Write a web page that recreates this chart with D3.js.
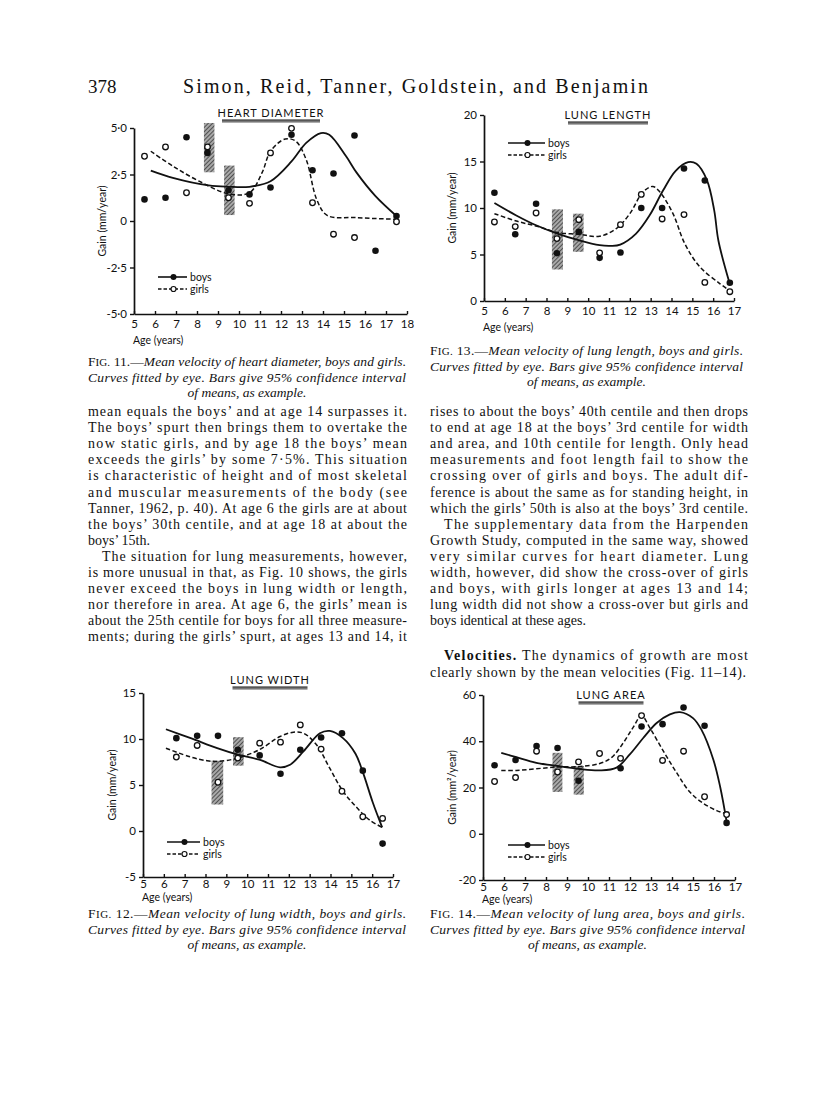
<!DOCTYPE html>
<html>
<head>
<meta charset="utf-8">
<script src="https://cdn.jsdelivr.net/npm/d3@7"></script>
<style>
  body { margin: 0; background: #fff; }
  svg { display: block; }
  .tick text { font-family: Lato, "Open Sans", sans-serif; font-size: 11.5px; fill: #111; }
  .body-text { font-family: "Liberation Serif", "DejaVu Serif", serif; font-size: 14px; fill: #111; }
</style>
</head>
<body>
<svg width="816" height="1117"></svg>
<script>
// ---- Fig. 11 heart diameter ----
const heartAges = [5.5, 6.5, 7.5, 8.5, 9.5, 10.5, 11.5, 12.5, 13.5, 14.5, 15.5, 16.5, 17.5];
const heartBoys = [1.16, 1.25, 4.5, 3.66, 1.65, 1.43, 1.8, 4.64, 2.73, 2.55, 4.6, -1.6, 0.27];
const heartGirls = [3.48, 3.98, 1.52, 3.98, 1.25, 0.95, 3.66, 4.98, 0.98, -0.71, -0.89, null, -0.04];
const heartBoysCurve = [[5.8, 2.71], [6.85, 2.32], [8.56, 1.91], [9.5, 1.84], [10.5, 1.84], [11.5, 2.14], [12.5, 3.2],
  [13.2, 4.2], [13.9, 4.73], [14.3, 4.64], [15.1, 3.48], [15.6, 2.6], [16.5, 1.34], [17.5, 0.27]];
const heartGirlsCurve = [[5.8, 3.75], [6.85, 2.95], [8.1, 2.14], [9.5, 1.46], [10.5, 1.52], [11.1, 2.6], [11.5, 3.75],
  [12.2, 4.41], [12.7, 4.29], [13.2, 3.3], [13.7, 1.16], [14.2, 0.3], [15.6, 0.18], [17.5, 0.09]];
const heartBars = [[8.33, 8.83, 2.62, 5.27], [9.29, 9.79, 0.32, 2.98]];
const heartYTicks = [5, 2.5, 0, -2.5, -5];
const heartYLabels = ["5·0", "2·5", "0", "-2·5", "-5·0"];
const heartXTicks = [5, 6, 7, 8, 9, 10, 11, 12, 13, 14, 15, 16, 17, 18];

// ---- Fig. 13 lung length ----
const lengthAges = [5.5, 6.5, 7.5, 8.5, 9.55, 10.55, 11.55, 12.55, 13.55, 14.6, 15.6, 16.8];
const lengthBoys = [11.64, 7.18, 10.46, 5.14, 7.43, 4.64, 5.21, 10.0, 10.0, 14.25, 12.96, 1.96];
const lengthGirls = [8.5, 8.0, 9.46, 6.71, 8.75, 5.18, 8.21, 11.46, 8.82, 9.29, 2.0, 1.0];
const lengthBoysCurve = [[5.5, 10.54], [6.55, 9.2], [7.5, 8.14], [8.52, 7.25], [9.54, 6.54], [10.55, 6.0], [11.1, 5.93],
  [11.54, 6.07], [12.3, 7.25], [12.95, 9.21], [13.6, 11.9], [14.2, 14.0], [14.8, 14.93], [15.2, 14.75], [15.7, 13.0],
  [16.05, 9.75], [16.25, 6.5], [16.75, 2.2]];
const lengthGirlsCurve = [[5.5, 9.39], [6.55, 8.6], [7.67, 7.96], [8.52, 7.36], [9.54, 7.18], [10.55, 6.96], [11.35, 7.79],
  [12.0, 9.39], [12.63, 11.71], [13.1, 12.32], [13.45, 11.7], [14.07, 9.4], [14.63, 6.2], [15.35, 3.7], [16.3, 1.9], [16.8, 1.1]];
const lengthBars = [[8.26, 8.79, 3.39, 9.86], [9.27, 9.78, 5.29, 9.39]];
const lengthYTicks = [20, 15, 10, 5, 0];
const lengthYLabels = ["20", "15", "10", "5", "0"];

// ---- Fig. 12 lung width ----
const widthAges = [6.6, 7.6, 8.6, 9.55, 10.6, 11.6, 12.55, 13.55, 14.55, 15.55, 16.5];
const widthBoys = [10.09, 10.34, 10.34, 8.83, 8.22, 6.23, 8.83, 10.16, 10.63, 6.56, -1.37];
const widthGirls = [8.04, 9.3, 5.3, 7.93, 9.55, 9.66, 11.53, 8.9, 4.32, 1.55, 1.37];
const widthBoysCurve = [[6.1, 11.06], [7.29, 10.09], [8.56, 9.0], [9.56, 8.29], [10.58, 7.75], [11.58, 6.92], [12.06, 7.2],
  [12.7, 8.65], [13.49, 10.63], [13.97, 10.88], [14.6, 10.1], [15.2, 8.4], [15.56, 6.34], [16.03, 3.1], [16.48, 0.4]];
const widthGirlsCurve = [[6.1, 9.0], [7.29, 8.04], [8.08, 7.64], [8.61, 7.57], [9.56, 7.93], [10.58, 8.83], [11.58, 10.27],
  [12.22, 10.74], [12.7, 10.63], [13.33, 9.37], [13.97, 6.8], [14.6, 4.32], [15.24, 2.6], [15.87, 1.2], [16.48, 0.4]];
const widthBars = [[8.29, 8.85, 2.88, 7.64], [9.32, 9.83, 7.1, 10.2]];
const widthYTicks = [15, 10, 5, 0, -5];
const widthYLabels = ["15", "10", "5", "0", "-5"];

// ---- Fig. 14 lung area ----
const areaAges = [5.55, 6.55, 7.55, 8.55, 9.55, 10.55, 11.55, 12.55, 13.55, 14.55, 15.55, 16.6];
const areaBoys = [29.6, 31.9, 37.9, 37.1, 22.9, null, 28.3, 46.4, 47.4, 54.6, 46.7, 4.7];
const areaGirls = [22.6, 24.3, 35.7, 26.7, 31.1, 34.7, 32.6, 51.1, 31.7, 35.7, 16.0, 8.3];
const areaBoysCurve = [[5.87, 35.0], [6.59, 33.1], [7.54, 30.7], [8.55, 29.3], [9.53, 28.1], [10.56, 27.4], [11.36, 28.6],
  [11.99, 34.3], [12.63, 41.4], [13.27, 47.9], [13.9, 51.6], [14.38, 52.6], [15.0, 50.0], [15.4, 45.0], [15.97, 32.0],
  [16.3, 20.0], [16.6, 5.3]];
const areaGirlsCurve = [[5.87, 27.4], [6.59, 27.4], [7.54, 28.1], [8.55, 28.9], [9.53, 29.0], [10.56, 30.4], [11.12, 32.9],
  [11.68, 39.3], [12.15, 46.0], [12.55, 51.0], [12.95, 45.7], [13.59, 35.7], [14.22, 26.4], [14.86, 17.9], [15.5, 13.1],
  [16.13, 10.0], [16.61, 8.6]];
const areaBars = [[8.31, 8.78, 18.1, 35.0], [9.32, 9.8, 16.9, 29.3]];
const areaYTicks = [60, 40, 20, 0, -20];
const areaYLabels = ["60", "40", "20", "0", "-20"];

const lungXTicks = [5, 6, 7, 8, 9, 10, 11, 12, 13, 14, 15, 16, 17];

// ---- page text ----
const leftLines = [
  ["mean equals the boys\u2019 and at age 14 surpasses it.", 1, 0],
  ["The boys\u2019 spurt then brings them to overtake the", 1, 0],
  ["now static girls, and by age 18 the boys\u2019 mean", 1, 0],
  ["exceeds the girls\u2019 by some 7\u00b75%.  This situation", 1, 0],
  ["is characteristic of height and of most skeletal", 1, 0],
  ["and muscular measurements of the body (see", 1, 0],
  ["Tanner, 1962, p. 40).  At age 6 the girls are at about", 1, 0],
  ["the boys\u2019 30th centile, and at age 18 at about the", 1, 0],
  ["boys\u2019 15th.", 0, 0],
  ["The situation for lung measurements, however,", 1, 1],
  ["is more unusual in that, as Fig. 10 shows, the girls", 1, 0],
  ["never exceed the boys in lung width or length,", 1, 0],
  ["nor therefore in area.  At age 6, the girls\u2019 mean is", 1, 0],
  ["about the 25th centile for boys for all three measure-", 1, 0],
  ["ments; during the girls\u2019 spurt, at ages 13 and 14, it", 1, 0]
];
const rightLines = [
  ["rises to about the boys\u2019 40th centile and then drops", 1, 0],
  ["to end at age 18 at the boys\u2019 3rd centile for width", 1, 0],
  ["and area, and 10th centile for length.  Only head", 1, 0],
  ["measurements and foot length fail to show the", 1, 0],
  ["crossing over of girls and boys.  The adult dif-", 1, 0],
  ["ference is about the same as for standing height, in", 1, 0],
  ["which the girls\u2019 50th is also at the boys\u2019 3rd centile.", 1, 0],
  ["The supplementary data from the Harpenden", 1, 1],
  ["Growth Study, computed in the same way, showed", 1, 0],
  ["very similar curves for heart diameter.  Lung", 1, 0],
  ["width, however, did show the cross-over of girls", 1, 0],
  ["and boys, with girls longer at ages 13 and 14;", 1, 0],
  ["lung width did not show a cross-over but girls and", 1, 0],
  ["boys identical at these ages.", 0, 0]
];

const svg = d3.select("svg");
const chartFont = 'Lato, "Open Sans", sans-serif';

// hatch for the confidence bars
const defs = svg.append("defs");
const hatch = defs.append("pattern")
  .attr("id", "hatch")
  .attr("patternUnits", "userSpaceOnUse")
  .attr("width", 3).attr("height", 3)
  .attr("patternTransform", "rotate(45)");
hatch.append("rect").attr("width", 3).attr("height", 3).attr("fill", "#a8a8a8");
hatch.append("line").attr("x1", 0).attr("y1", 0).attr("x2", 0).attr("y2", 3)
  .attr("stroke", "#2a2a2a").attr("stroke-width", 1.4);

function drawChart(c) {
  const g = svg.append("g");
  const x = d3.scaleLinear().domain(c.xDomain).range(c.xRange);
  const y = d3.scaleLinear().domain(c.yDomain).range(c.yRange);

  // bars
  g.selectAll("rect.bar").data(c.bars).join("rect")
    .attr("class", "bar")
    .attr("x", d => x(d[0]))
    .attr("width", d => x(d[1]) - x(d[0]))
    .attr("y", d => y(d[3]))
    .attr("height", d => y(d[2]) - y(d[3]))
    .attr("fill", "url(#hatch)");

  // axes
  const yAxis = g.append("g")
    .attr("transform", `translate(${c.xRange[0]},0)`)
    .call(d3.axisLeft(y).tickValues(c.yTicks).tickFormat((d, i) => c.yLabels[i])
      .tickSizeInner(4).tickSizeOuter(0).tickPadding(3));
  const xAxis = g.append("g")
    .attr("transform", `translate(0,${c.yRange[0]})`)
    .call(d3.axisBottom(x).tickValues(c.xTicks).tickFormat(d3.format("d"))
      .tickSizeInner(-3).tickSizeOuter(0).tickPadding(c.tickPad));
  [xAxis, yAxis].forEach(a => {
    a.attr("font-family", null).attr("font-size", null);
    a.select(".domain").attr("stroke", "#111").attr("stroke-width", 1.7);
    a.selectAll(".tick line").attr("stroke", "#111").attr("stroke-width", 1.4);
  });

  // curves
  const line = d3.line().x(d => x(d[0])).y(d => y(d[1])).curve(d3.curveCatmullRom.alpha(0.5));
  g.append("path").datum(c.boysCurve).attr("d", line)
    .attr("fill", "none").attr("stroke", "#111").attr("stroke-width", 1.8);
  g.append("path").datum(c.girlsCurve).attr("d", line)
    .attr("fill", "none").attr("stroke", "#111").attr("stroke-width", 1.5)
    .attr("stroke-dasharray", "4.5,2.5");

  // points
  const boysPts = c.ages.map((a, i) => [a, c.boys[i]]).filter(d => d[1] != null);
  const girlsPts = c.ages.map((a, i) => [a, c.girls[i]]).filter(d => d[1] != null);
  g.selectAll("circle.boy").data(boysPts).join("circle")
    .attr("class", "boy")
    .attr("cx", d => x(d[0])).attr("cy", d => y(d[1])).attr("r", 3.3)
    .attr("fill", "#111");
  g.selectAll("circle.girl").data(girlsPts).join("circle")
    .attr("class", "girl")
    .attr("cx", d => x(d[0])).attr("cy", d => y(d[1])).attr("r", 2.8)
    .attr("fill", "#fff").attr("stroke", "#111").attr("stroke-width", 1.3);

  // title with heavy underline
  g.append("text")
    .attr("x", c.title[1]).attr("y", c.title[2])
    .attr("text-anchor", "middle")
    .attr("font-family", chartFont).attr("font-size", 11).attr("letter-spacing", 1)
    .attr("fill", "#111")
    .text(c.title[0]);
  const tw = c.title[3];
  g.append("rect")
    .attr("x", c.title[1] - tw / 2).attr("y", c.title[2] + 2.5)
    .attr("width", tw).attr("height", 1.2).attr("fill", "#111");
  g.append("rect")
    .attr("x", c.title[1] - tw / 2).attr("y", c.title[2] + 4)
    .attr("width", tw).attr("height", 1.6).attr("fill", "#777");

  // axis titles
  g.append("text")
    .attr("transform", `translate(${c.yLabelX},${(c.yRange[0] + c.yRange[1]) / 2}) rotate(-90)`)
    .attr("text-anchor", "middle")
    .attr("font-family", chartFont).attr("font-size", 10.5).attr("fill", "#111")
    .text(c.yLabel);
  g.append("text")
    .attr("x", c.xRange[0] - 1).attr("y", c.yRange[0] + c.ageDy)
    .attr("font-family", chartFont).attr("font-size", 10.5).attr("fill", "#111")
    .text("Age (years)");

  // legend
  const [lx0, lx1, ly] = c.legend;
  const lg = g.append("g");
  [["boys", 0], ["girls", 1]].forEach(([name, k]) => {
    const yy = ly + k * 12;
    lg.append("line").attr("x1", lx0).attr("x2", lx1).attr("y1", yy).attr("y2", yy)
      .attr("stroke", "#111").attr("stroke-width", k ? 1.3 : 1.6)
      .attr("stroke-dasharray", k ? "3.5,2" : null);
    lg.append("circle").attr("cx", (lx0 + lx1) / 2 + 1).attr("cy", yy).attr("r", k ? 2.5 : 3)
      .attr("fill", k ? "#fff" : "#111").attr("stroke", "#111").attr("stroke-width", k ? 1.2 : 0);
    lg.append("text").attr("x", lx1 + 3).attr("y", yy + 3.5)
      .attr("font-family", chartFont).attr("font-size", 10.5).attr("fill", "#111")
      .text(name);
  });
}

drawChart({
  xDomain: [5, 18], xRange: [134, 407], yDomain: [-5, 5], yRange: [314, 128],
  xTicks: heartXTicks, yTicks: heartYTicks, yLabels: heartYLabels,
  ages: heartAges, boys: heartBoys, girls: heartGirls,
  boysCurve: heartBoysCurve, girlsCurve: heartGirlsCurve, bars: heartBars,
  title: ["HEART DIAMETER", 271, 117, 98], yLabel: "Gain (mm/year)", yLabelX: 106,
  legend: [158, 187, 277], tickPad: 6, ageDy: 30
});
drawChart({
  xDomain: [5, 17], xRange: [484, 734], yDomain: [0, 20], yRange: [301, 115],
  xTicks: lungXTicks, yTicks: lengthYTicks, yLabels: lengthYLabels,
  ages: lengthAges, boys: lengthBoys, girls: lengthGirls,
  boysCurve: lengthBoysCurve, girlsCurve: lengthGirlsCurve, bars: lengthBars,
  title: ["LUNG LENGTH", 608, 119, 80], yLabel: "Gain (mm/year)", yLabelX: 456,
  legend: [508, 545, 143], tickPad: 6, ageDy: 30
});
drawChart({
  xDomain: [5, 17], xRange: [143, 393], yDomain: [-5, 15], yRange: [877, 693],
  xTicks: lungXTicks, yTicks: widthYTicks, yLabels: widthYLabels,
  ages: widthAges, boys: widthBoys, girls: widthGirls,
  boysCurve: widthBoysCurve, girlsCurve: widthGirlsCurve, bars: widthBars,
  title: ["LUNG WIDTH", 270, 684, 75], yLabel: "Gain (mm/year)", yLabelX: 116,
  legend: [167, 200, 842], tickPad: 3, ageDy: 24
});
drawChart({
  xDomain: [5, 17], xRange: [483, 735], yDomain: [-20, 60], yRange: [880, 695],
  xTicks: lungXTicks, yTicks: areaYTicks, yLabels: areaYLabels,
  ages: areaAges, boys: areaBoys, girls: areaGirls,
  boysCurve: areaBoysCurve, girlsCurve: areaGirlsCurve, bars: areaBars,
  title: ["LUNG AREA", 611, 699, 65], yLabel: "Gain (mm\u00b2/year)", yLabelX: 456,
  legend: [508, 545, 845], tickPad: 3, ageDy: 23
});

// ---- header ----
const serif = '"Liberation Serif", "DejaVu Serif", serif';
svg.append("text").attr("x", 88).attr("y", 93)
  .attr("font-family", serif).attr("font-size", 19).attr("fill", "#111").text("378");
svg.append("text").attr("x", 183).attr("y", 93)
  .attr("font-family", serif).attr("font-size", 20).attr("fill", "#111")
  .attr("textLength", 465).attr("lengthAdjust", "spacing")
  .text("Simon, Reid, Tanner, Goldstein, and Benjamin");

// ---- captions ----
function caption(x0, width, y0, num, what) {
  const t = svg.append("text").attr("x", x0).attr("y", y0)
    .attr("font-family", serif).attr("font-size", 13.5).attr("fill", "#111")
    .attr("textLength", width).attr("lengthAdjust", "spacing");
  t.append("tspan").text("F");
  t.append("tspan").attr("font-size", 11).text("IG.");
  t.append("tspan").text(" " + num + ".\u2014");
  t.append("tspan").attr("font-style", "italic").text("Mean velocity of " + what + ", boys and girls.");
  svg.append("text").attr("x", x0).attr("y", y0 + 15.5)
    .attr("font-family", serif).attr("font-size", 13.5).attr("font-style", "italic").attr("fill", "#111")
    .attr("textLength", width).attr("lengthAdjust", "spacing")
    .text("Curves fitted by eye.  Bars give 95% confidence interval");
  svg.append("text").attr("x", x0 + width / 2).attr("y", y0 + 31)
    .attr("text-anchor", "middle")
    .attr("font-family", serif).attr("font-size", 13.5).attr("font-style", "italic").attr("fill", "#111")
    .text("of means, as example.");
}
caption(88, 318, 366, 11, "heart diameter");
caption(430, 313, 355, 13, "lung length");
caption(88, 318, 918, 12, "lung width");
caption(430, 315, 918, 14, "lung area");

// ---- body text ----
function column(lines, x0, width, y0, step) {
  lines.forEach((l, i) => {
    const indent = l[2] ? 14 : 0;
    const t = svg.append("text").attr("class", "body-text")
      .attr("x", x0 + indent).attr("y", y0 + i * step);
    if (l[1]) t.attr("textLength", width - indent).attr("lengthAdjust", "spacing");
    t.text(l[0]);
  });
}
column(leftLines, 88, 319, 416, 16.1);
column(rightLines, 430, 318, 416, 16.1);

const vel = svg.append("text").attr("class", "body-text")
  .attr("x", 444).attr("y", 660)
  .attr("textLength", 304).attr("lengthAdjust", "spacing");
vel.append("tspan").attr("font-weight", "bold").text("Velocities.");
vel.append("tspan").text("  The dynamics of growth are most");
svg.append("text").attr("class", "body-text")
  .attr("x", 430).attr("y", 677)
  .attr("textLength", 316).attr("lengthAdjust", "spacing")
  .text("clearly shown by the mean velocities (Fig. 11\u201314).");
</script>
</body>
</html>
